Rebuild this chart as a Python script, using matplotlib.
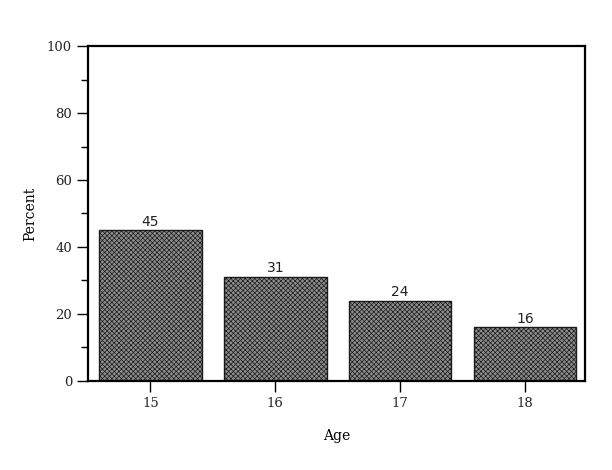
import matplotlib
matplotlib.use("Agg")
import matplotlib.pyplot as plt
from matplotlib.ticker import MultipleLocator

ages = [15, 16, 17, 18]
percents = [45, 31, 24, 16]

plt.rcParams["hatch.color"] = "#2a2a2a"
plt.rcParams["hatch.linewidth"] = 0.5

fig = plt.figure(figsize=(6.12, 4.70), dpi=100)
ax = fig.add_axes([0.1438, 0.1894, 0.8121, 0.7127])

bars = ax.bar(ages, percents, width=0.82, color="#8c8c8c", edgecolor="#1a1a1a",
              linewidth=1.0, hatch="xxxxxxx")
for x, v in zip(ages, percents):
    ax.text(x, v + 0.5, f"{v}", ha="center", va="bottom", fontsize=10,
            family="DejaVu Sans", color="#222222")

ax.set_xlim(14.5, 18.48)
ax.set_ylim(0, 100)
ax.set_xticks(ages)
ax.yaxis.set_major_locator(MultipleLocator(20))
ax.yaxis.set_minor_locator(MultipleLocator(10))
ax.tick_params(axis="both", which="major", length=8, width=1.0, direction="out")
ax.tick_params(axis="y", which="minor", length=5, width=1.0, direction="out")
for lab in ax.get_xticklabels() + ax.get_yticklabels():
    lab.set_family("DejaVu Serif")
    lab.set_fontsize(9.5)
    lab.set_color("#222222")
for sp in ax.spines.values():
    sp.set_linewidth(1.6)

ax.set_xlabel("Age", family="DejaVu Serif", fontsize=10, labelpad=14)
ax.set_ylabel("Percent", family="DejaVu Serif", fontsize=10, labelpad=7)

fig.savefig("out.png", dpi=100)
